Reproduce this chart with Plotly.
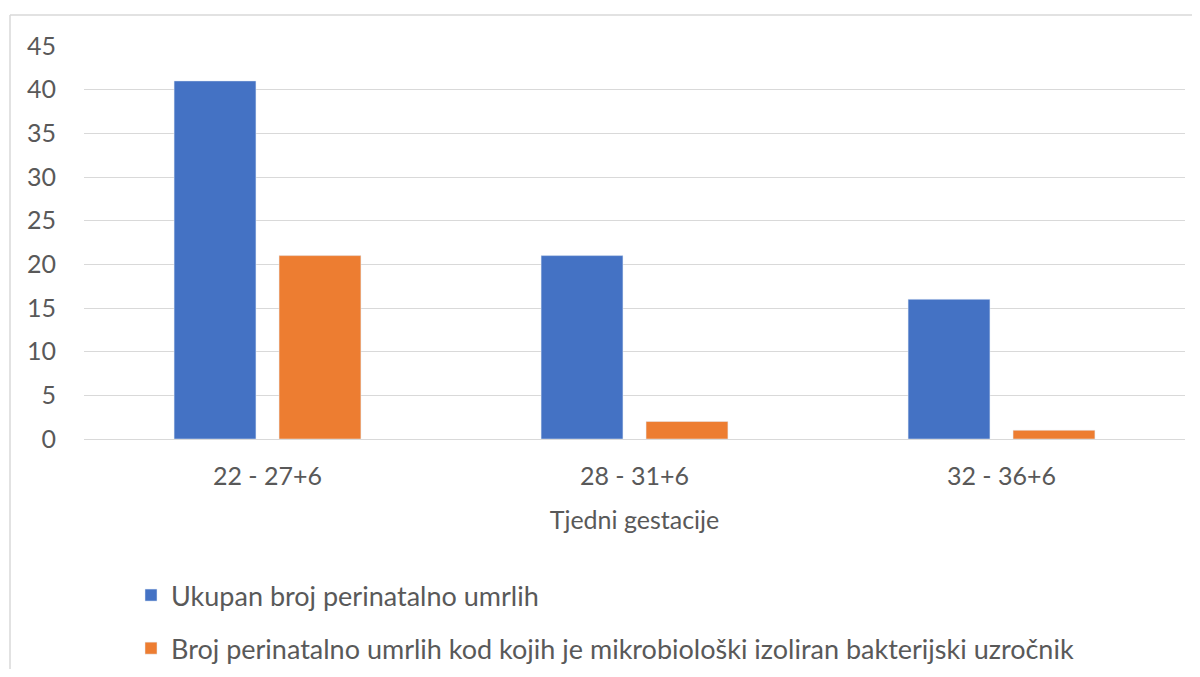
import plotly.graph_objects as go

categories = ["22 - 27+6", "28 - 31+6", "32 - 36+6"]
series_total = [41, 21, 16]
series_bacterial = [21, 2, 1]
name_total = "Ukupan broj perinatalno umrlih"
name_bacterial = "Broj perinatalno umrlih kod kojih je mikrobiološki izoliran bakterijski uzročnik"
x_title = "Tjedni gestacije"
y_ticks = [0, 5, 10, 15, 20, 25, 30, 35, 40, 45]

FONT = "Lato, 'Open Sans', sans-serif"
TXT = "#595959"
W, H = 1184, 661
L, R, T, B = 76, 7, 38, 230
PW, PH = W - L - R, H - T - B

fig = go.Figure()
fig.add_trace(go.Bar(x=categories, y=series_total, name=name_total,
                     marker=dict(color="#4472C4"), legendgroup="a"))
fig.add_trace(go.Bar(x=categories, y=series_bacterial, name=name_bacterial,
                     marker=dict(color="#ED7D31"), legendgroup="b"))

fig.update_layout(
    width=W, height=H,
    paper_bgcolor="white", plot_bgcolor="white",
    margin=dict(l=L, r=R, t=T, b=B, autoexpand=False),
    barmode="group", bargap=0.428, bargroupgap=0.22,
    font=dict(family=FONT, size=25, color=TXT),
    showlegend=True,
    legend=dict(orientation="v", x=(123 - L) / PW, xanchor="left",
                yref="container", y=1 - 563 / H, yanchor="top",
                traceorder="grouped", tracegroupgap=15,
                font=dict(family=FONT, size=27, color=TXT)),
    xaxis=dict(title=dict(text=x_title, font=dict(size=25, color=TXT), standoff=22),
               showgrid=False, showline=False, ticks="", tickfont=dict(size=25, color=TXT),
               ticklabelstandoff=20),
    yaxis=dict(range=[0, 45], tickvals=y_ticks, showgrid=True, gridcolor="#D9D9D9",
               gridwidth=1.3, zeroline=True, zerolinecolor="#D9D9D9", zerolinewidth=1.3,
               ticks="", tickfont=dict(size=25, color=TXT), ticklabelstandoff=27),
    shapes=[
        dict(type="line", xref="paper", yref="paper", x0=(2 - L) / PW, x1=(W + 10 - L) / PW,
             y0=(H - B - 7) / PH, y1=(H - B - 7) / PH, line=dict(color="#D9D9D9", width=1.5)),
        dict(type="line", xref="paper", yref="paper", x0=(2 - L) / PW, x1=(2 - L) / PW,
             y0=(H - B - 7) / PH, y1=(H - B - H - 20) / PH, line=dict(color="#D9D9D9", width=1.5)),
    ],
)

fig.write_html("out.html")
